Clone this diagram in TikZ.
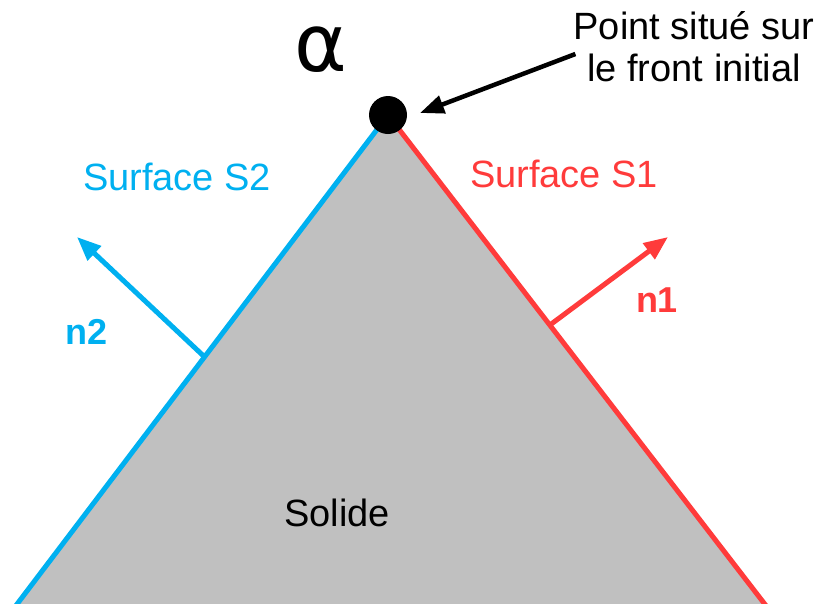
\documentclass[tikz,border=0pt]{standalone}
\usepackage{fontspec}
\setmainfont{Liberation Sans}
\newfontfamily\greekfont{DejaVu Sans}
\usetikzlibrary{arrows.meta,calc}
\definecolor{skyblue}{HTML}{00B0F0}
\definecolor{brightred}{HTML}{FF3B3B}
\definecolor{solidgray}{HTML}{C0C0C0}
\tikzset{
  px/.style={x=1pt, y=-1pt},
  face2/.style={skyblue, line width=5pt},
  face1/.style={brightred, line width=5pt},
  nvec/.style={line width=5pt, -{Triangle[length=24pt,width=19pt]}},
  ptr/.style={black, line width=4.5pt, -{Triangle[length=24pt,width=18pt]}},
  pnt/.style={circle, fill=black, minimum size=38pt, inner sep=0pt},
  lbl/.style={font=\fontsize{38}{42}\selectfont, inner sep=0pt},
  blbl/.style={font=\fontsize{36}{40}\selectfont\bfseries, inner sep=0pt},
}
\begin{document}
\begin{tikzpicture}[px]
  \useasboundingbox (0,0) rectangle (822,603);
  \coordinate (apex) at (388,115);
  \coordinate (baseL) at (5,620);
  \coordinate (baseR) at (777,620);
  % solid and its two faces
  \fill[solidgray] (apex) -- (baseL) -- (baseR) -- cycle;
  \draw[face2] (apex) -- (baseL);
  \draw[face1] (apex) -- (baseR);
  % normals
  \coordinate (foot2) at ($(apex)!0.479!(baseL)$);
  \coordinate (foot1) at ($(apex)!0.416!(baseR)$);
  \coordinate (tip2) at (77,237);
  \coordinate (tip1) at (668,237);
  \draw[nvec, skyblue] (foot2) -- (tip2);
  \draw[nvec, brightred] (foot1) -- (tip1);
  \node[pnt] (dot) at (apex) {};
  \node[lbl, skyblue] (s2) at (177,177) {Surface S2};
  \node[lbl, brightred] (s1) at (564,174) {Surface S1};
  \node[blbl, skyblue] (n2) at (87,332) {n2};
  \node[blbl, brightred] (n1) at (657,300) {n1};
  \node[lbl] (solide) at (337,513) {Solide};
  \node[font=\fontsize{80}{80}\greekfont, inner sep=0pt] (alpha) at (321,50) {α};
  \node[lbl, align=center] (note) at (694,47) {Point situé sur\\le front initial};
  \coordinate (ptip) at (420,113);
  \draw[ptr] ([xshift=2pt,yshift=-7pt]note.west) -- (ptip);
\end{tikzpicture}
\end{document}
